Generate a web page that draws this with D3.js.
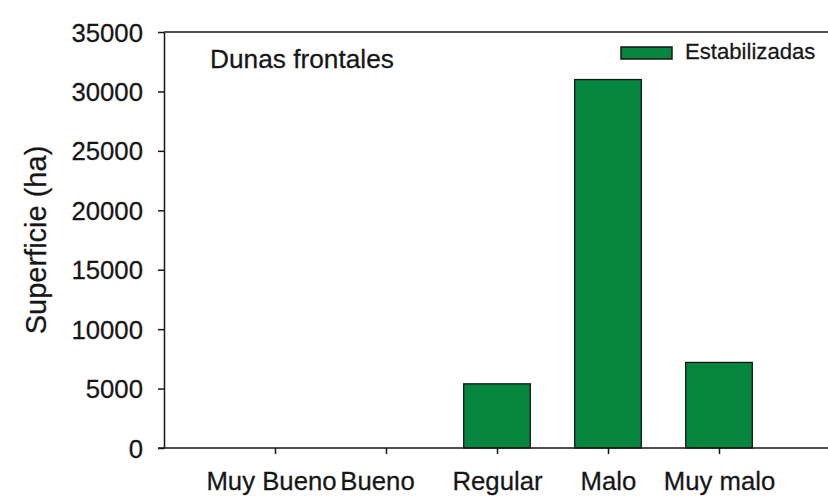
<!DOCTYPE html>
<html>
<head>
<meta charset="utf-8">
<script src="https://cdn.jsdelivr.net/npm/d3@7"></script>
<style>
  html, body { margin: 0; padding: 0; background: #fff; }
  svg { display: block; }
  text { font-family: "Liberation Sans", Arial, Helvetica, sans-serif; fill: #161616; stroke: #161616; stroke-width: 0.25px; }
</style>
</head>
<body>
<svg id="chart" width="828" height="497"></svg>
<script>
// Condition classes of the stabilised foredunes and their surface (ha)
const categories = ["Muy Bueno", "Bueno", "Regular", "Malo", "Muy malo"];
const estabilizadas = [0, 0, 5400, 31000, 7200];
const yTicks = [0, 5000, 10000, 15000, 20000, 25000, 30000, 35000];
const seriesName = "Estabilizadas";
const panelTitle = "Dunas frontales";
const yTitle = "Superficie (ha)";

const W = 828, H = 497;
const plotL = 164, plotR = 830, plotT = 32, plotB = 448;
const stretch = 1.03;          // slightly wide typeface rendering
const ink = "#161616";
const green = "#06853f";

const svg = d3.select("#chart");

const x = d3.scalePoint().domain(categories).range([plotL, plotR]).padding(1);
const y = d3.scaleLinear().domain([0, 35000]).range([plotB, plotT]);
const barW = x.step() * 0.6;

// frame line along the top of the plot
svg.append("line")
  .attr("x1", plotL).attr("x2", W).attr("y1", plotT).attr("y2", plotT)
  .attr("stroke", ink).attr("stroke-width", 1.5);

// bars
svg.append("g").selectAll("rect")
  .data(categories.map((c, i) => ({ c, v: estabilizadas[i] })).filter(d => d.v > 0))
  .join("rect")
  .attr("x", d => x(d.c) - barW / 2)
  .attr("y", d => y(d.v))
  .attr("width", barW)
  .attr("height", d => y(0) - y(d.v))
  .attr("fill", green)
  .attr("stroke", ink)
  .attr("stroke-width", 1.3);

// y axis
const gy = svg.append("g")
  .attr("transform", `translate(${plotL},0)`)
  .call(d3.axisLeft(y).tickValues(yTicks).tickSize(6).tickSizeOuter(0).tickFormat(d3.format("d")));
gy.attr("font-family", null).attr("font-size", null);
gy.select(".domain").attr("stroke", ink).attr("stroke-width", 1.5);
gy.selectAll(".tick line").attr("stroke", ink).attr("stroke-width", 1.5);
gy.selectAll(".tick text")
  .attr("x", null).attr("dy", "0.36em")
  .attr("transform", `translate(-21,0) scale(${stretch},1)`)
  .style("font-size", "25px").attr("fill", ink);

// x axis
const nudge = { "Muy Bueno": -4, "Bueno": -9 };
const gx = svg.append("g")
  .attr("transform", `translate(0,${plotB})`)
  .call(d3.axisBottom(x).tickSize(6).tickSizeOuter(0));
gx.attr("font-family", null).attr("font-size", null);
gx.select(".domain").attr("d", `M${plotL - 6},0H${W}`).attr("stroke", ink).attr("stroke-width", 1.5);
gx.selectAll(".tick line").attr("stroke", ink).attr("stroke-width", 1.5);
gx.selectAll(".tick text")
  .attr("y", null).attr("dy", null)
  .attr("transform", d => `translate(${nudge[d] || 0},42) scale(${stretch},1)`)
  .style("font-size", "25px").attr("fill", ink);

// y axis title
svg.append("text")
  .attr("transform", "translate(46,240) rotate(-90)")
  .attr("text-anchor", "middle")
  .style("font-size", "29px")
  .text(yTitle);

// panel label
svg.append("text")
  .attr("transform", `translate(210,68) scale(${stretch},1)`)
  .style("font-size", "25.5px")
  .text(panelTitle);

// legend
svg.append("rect")
  .attr("x", 621).attr("y", 47).attr("width", 51).attr("height", 12)
  .attr("fill", green).attr("stroke", ink).attr("stroke-width", 1.5);
svg.append("text")
  .attr("transform", `translate(685,59) scale(${stretch},1)`)
  .style("font-size", "21.5px")
  .text(seriesName);
</script>
</body>
</html>
